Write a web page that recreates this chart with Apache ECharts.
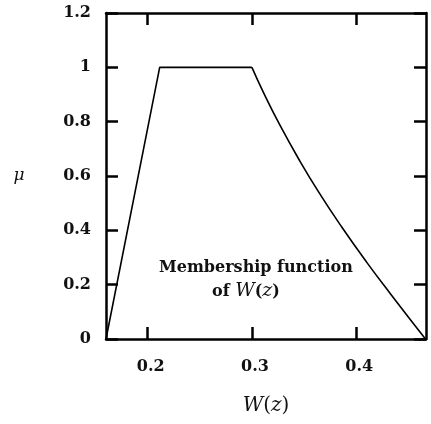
<!DOCTYPE html>
<html>
<head>
<meta charset="utf-8">
<script src="https://cdn.jsdelivr.net/npm/echarts@6/dist/echarts.min.js"></script>
<style>
  html, body { margin: 0; padding: 0; background: #fff; }
  #chart { width: 431px; height: 424px; }
</style>
</head>
<body>
<div id="chart"></div>
<script>
// membership function
var rampW = [0.16, 0.2115, 0.30];
var rampMu = [0, 1, 1];
var tailW = [0.30, 0.311, 0.327, 0.346, 0.365, 0.386, 0.410, 0.433, 0.4665];
var tailMu = [1, 0.908, 0.786, 0.655, 0.535, 0.413, 0.283, 0.166, 0];
var xTicks = [0.2, 0.3, 0.4];

var chart = echarts.init(document.getElementById("chart"));

function pairs(xs, ys) {
  var out = [];
  for (var i = 0; i < xs.length; i++) out.push([xs[i], ys[i]]);
  return out;
}

var serif = "DejaVu Serif";
var axisLine = { show: true, onZero: false, lineStyle: { color: "#000", width: 2.5 } };
var tick = { inside: true, length: 12, lineStyle: { color: "#000", width: 2.5 } };

var option = {
  backgroundColor: "#fff",
  animation: false,
  grid: { left: 106, top: 13, right: 5, bottom: 85 },
  xAxis: [
    {
      type: "value",
      min: 0.16,
      max: 0.467,
      axisLine: axisLine,
      axisTick: Object.assign({ customValues: xTicks }, tick),
      axisLabel: {
        customValues: xTicks,
        margin: 20,
        color: "#111",
        fontFamily: serif,
        fontWeight: "bold",
        fontSize: 16,
        padding: [0, 0, 0, 6],
      },
      splitLine: { show: false },
      name: "{i|W}{n|(}{i|z}{n|)}",
      nameLocation: "middle",
      nameGap: 57,
      nameTextStyle: {
        rich: {
          i: { fontFamily: serif, fontStyle: "italic", fontSize: 20, color: "#111" },
          n: { fontFamily: serif, fontSize: 20, color: "#111" },
        },
      },
    },
    {
      type: "value",
      position: "top",
      min: 0.16,
      max: 0.467,
      axisLine: axisLine,
      axisTick: Object.assign({ customValues: xTicks }, tick),
      axisLabel: { show: false },
      splitLine: { show: false },
    },
  ],
  yAxis: [
    {
      type: "value",
      min: 0,
      max: 1.2,
      interval: 0.2,
      axisLine: axisLine,
      axisTick: tick,
      axisLabel: {
        margin: 15,
        color: "#111",
        fontFamily: serif,
        fontWeight: "bold",
        fontSize: 16,
      },
      splitLine: { show: false },
      name: "μ",
      nameLocation: "middle",
      nameRotate: 0,
      nameGap: 87,
      nameTextStyle: {
        fontFamily: serif,
        fontStyle: "italic",
        fontSize: 17,
        color: "#111",
        align: "center",
        verticalAlign: "middle",
      },
    },
    {
      type: "value",
      position: "right",
      min: 0,
      max: 1.2,
      interval: 0.2,
      axisLine: axisLine,
      axisTick: tick,
      axisLabel: { show: false },
      splitLine: { show: false },
    },
  ],
  series: [
    {
      type: "line",
      data: pairs(rampW, rampMu),
      symbol: "none",
      lineStyle: { color: "#000", width: 1.6 },
    },
    {
      type: "line",
      data: pairs(tailW, tailMu),
      symbol: "none",
      smooth: 0.5,
      lineStyle: { color: "#000", width: 1.6 },
    },
  ],
  graphic: [
    {
      type: "text",
      left: 159,
      top: 260,
      style: {
        text: "Membership function",
        font: "bold 16px 'DejaVu Serif'",
        fill: "#111",
      },
    },
    {
      type: "text",
      left: 212,
      top: 282,
      style: {
        text: "{b|of }{i|W}{b|(}{i|z}{b|)}",
        rich: {
          b: { fontFamily: serif, fontWeight: "bold", fontSize: 16, fill: "#111" },
          i: { fontFamily: serif, fontStyle: "italic", fontSize: 19, fill: "#111" },
        },
      },
    },
  ],
};

chart.setOption(option);
</script>
</body>
</html>
